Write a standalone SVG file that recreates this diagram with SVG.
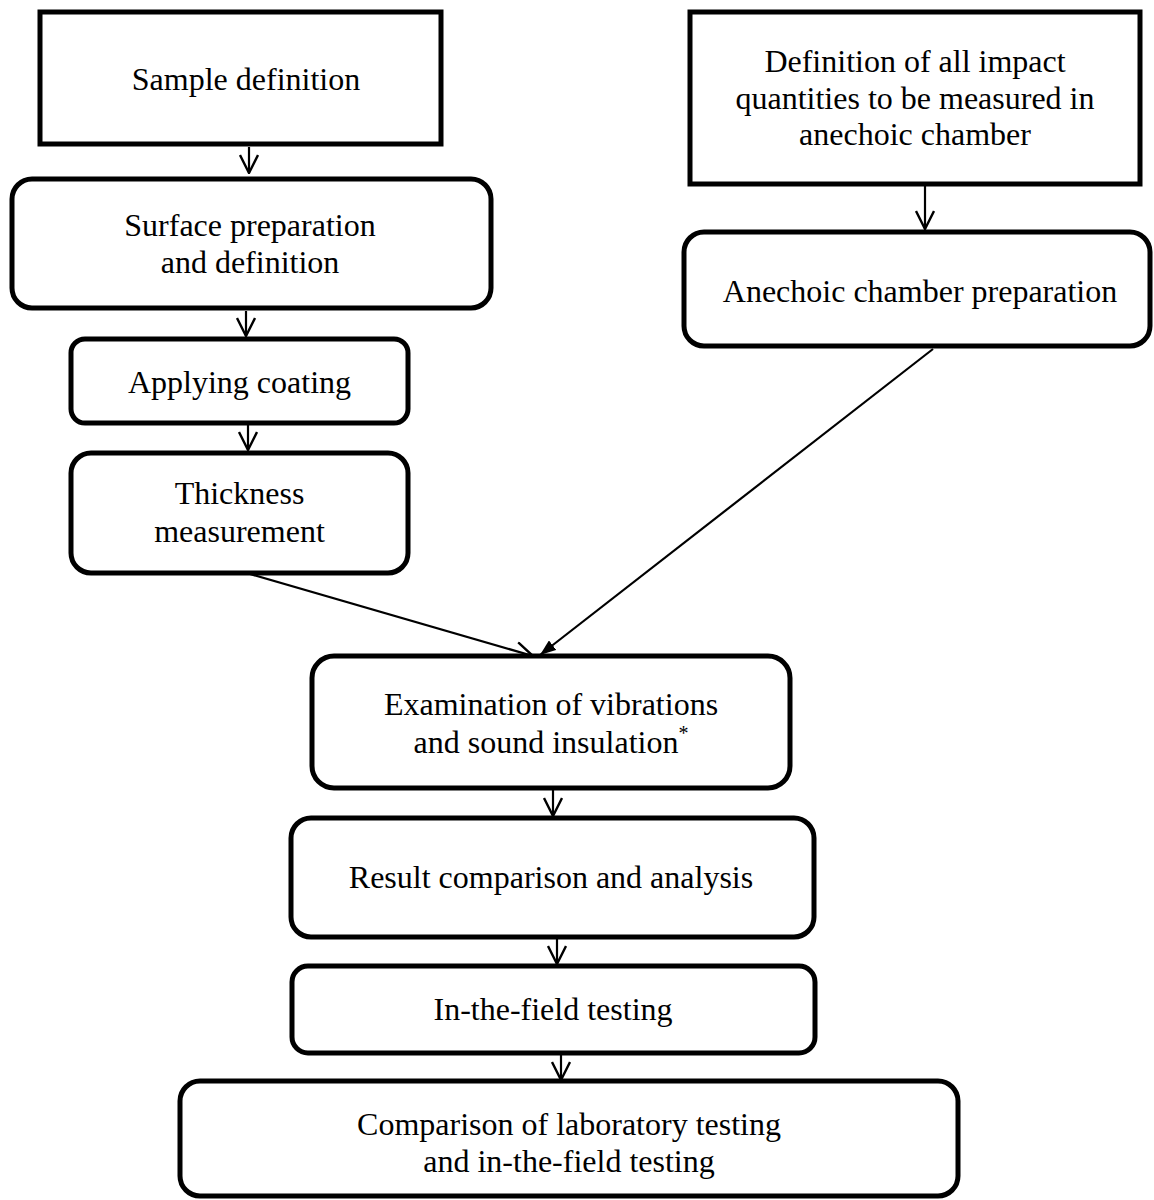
<svg xmlns="http://www.w3.org/2000/svg" width="1154" height="1200" viewBox="0 0 1154 1200">
<style>
.box{fill:#fff;stroke:#000;stroke-width:5}
.t{font-family:"Liberation Serif","Times New Roman",serif;font-size:32px;fill:#000;text-anchor:middle}
.c{fill:none;stroke:#000;stroke-width:2.2}
</style>
<defs>
<marker id="open" viewBox="0 0 20 20" refX="19" refY="10" markerWidth="20" markerHeight="20" markerUnits="userSpaceOnUse" orient="auto">
<path d="M1,1 L19,10 L1,19" fill="none" stroke="#000" stroke-width="2.4"/>
</marker>
<marker id="filled" viewBox="0 0 16 12" refX="16" refY="6" markerWidth="16" markerHeight="12" markerUnits="userSpaceOnUse" orient="auto">
<path d="M0,0 L16,6 L0,12 z" fill="#000"/>
</marker>
</defs>
<rect width="1154" height="1200" fill="#fff"/>
<g id="connectors">
<line class="c" x1="249" y1="147" x2="249" y2="173" marker-end="url(#open)"/>
<line class="c" x1="246" y1="311" x2="246" y2="336" marker-end="url(#open)"/>
<line class="c" x1="248" y1="425" x2="248" y2="450" marker-end="url(#open)"/>
<line class="c" x1="250" y1="574" x2="533" y2="656" marker-end="url(#open)"/>
<line class="c" x1="925" y1="186" x2="925" y2="229" marker-end="url(#open)"/>
<line class="c" x1="933" y1="349" x2="540" y2="655" marker-end="url(#filled)"/>
<line class="c" x1="553" y1="790" x2="553" y2="816" marker-end="url(#open)"/>
<line class="c" x1="557" y1="939" x2="557" y2="964" marker-end="url(#open)"/>
<line class="c" x1="561" y1="1054" x2="561" y2="1080" marker-end="url(#open)"/>
</g>
<g id="sample-definition">
<rect class="box" x="40" y="12" width="401" height="132"/>
<text class="t" x="246" y="90">Sample definition</text>
</g>
<g id="surface-preparation">
<rect class="box" x="12" y="179" width="479" height="129" rx="20"/>
<text class="t" x="250" y="236">Surface preparation</text>
<text class="t" x="250" y="273">and definition</text>
</g>
<g id="applying-coating">
<rect class="box" x="71" y="339" width="337" height="84" rx="14"/>
<text class="t" x="239.5" y="393">Applying coating</text>
</g>
<g id="thickness-measurement">
<rect class="box" x="71" y="453" width="337" height="120" rx="20"/>
<text class="t" x="239.5" y="504">Thickness</text>
<text class="t" x="239.5" y="542">measurement</text>
</g>
<g id="definition-quantities">
<rect class="box" x="690" y="12" width="450" height="172"/>
<text class="t" x="915" y="72">Definition of all impact</text>
<text class="t" x="915" y="108.5">quantities to be measured in</text>
<text class="t" x="915" y="145">anechoic chamber</text>
</g>
<g id="anechoic-preparation">
<rect class="box" x="684" y="232" width="466" height="114" rx="20"/>
<text class="t" x="920" y="302">Anechoic chamber preparation</text>
</g>
<g id="examination">
<rect class="box" x="312" y="656" width="478" height="132" rx="22"/>
<text class="t" x="551" y="715">Examination of vibrations</text>
<text class="t" x="551" y="753">and sound insulation<tspan font-size="20" dy="-13">*</tspan></text>
</g>
<g id="result-comparison">
<rect class="box" x="291" y="818" width="523" height="119" rx="20"/>
<text class="t" x="551" y="888">Result comparison and analysis</text>
</g>
<g id="in-the-field">
<rect class="box" x="292" y="966" width="523" height="87" rx="16"/>
<text class="t" x="553" y="1020">In-the-field testing</text>
</g>
<g id="comparison-lab-field">
<rect class="box" x="180" y="1081" width="778" height="115" rx="20"/>
<text class="t" x="569" y="1135">Comparison of laboratory testing</text>
<text class="t" x="569" y="1172">and in-the-field testing</text>
</g>
</svg>
